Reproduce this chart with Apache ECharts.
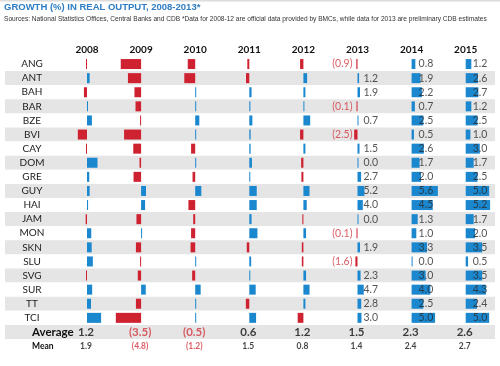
<!DOCTYPE html>
<html><head><meta charset="utf-8">
<script src="https://cdn.jsdelivr.net/npm/echarts@6/dist/echarts.min.js"></script>
<style>html,body{margin:0;padding:0;background:#fff}#c{width:500px;height:366px}</style>
</head><body><div id="c"></div>
<script>
// ---- data ----
const countries = ['ANG','ANT','BAH','BAR','BZE','BVI','CAY','DOM','GRE','GUY','HAI','JAM','MON','SKN','SLU','SVG','SUR','TT','TCI'];
const years = ['2008','2009','2010','2011','2012','2013','2014','2015'];
const g2008 = [-0.6, 2.0, -2.3, 0.5, 3.7, -6.9, -0.6, 7.9, 1.7, 2.0, 0.8, -1.0, 3.2, 3.5, 4.4, -0.6, 3.9, 3.0, 10.6];
const g2009 = [-15.3, -9.9, -5.0, -4.2, -0.3, -12.8, -5.9, -1.2, -5.7, 3.7, 3.0, -3.5, 0.5, -3.9, -0.5, -2.5, 3.5, -3.9, -19.0];
const g2010 = [-5.6, -8.2, 0.3, 0.3, 3.1, 0.4, -3.1, 0.5, -2.0, 4.6, -5.1, -1.5, -3.1, -3.5, 0.3, -2.3, 4.1, 0.2, 0.3];
const g2011 = [-1.5, -2.5, 1.7, 0.8, 2.3, 1.0, 1.0, 2.0, 0.5, 5.6, 5.6, 1.7, 6.1, -1.9, 1.4, 0.3, 4.8, -2.6, 5.1];
const g2012 = [-2.5, 2.8, 1.5, 0.2, 5.1, -2.5, 1.5, -1.7, -1.5, 4.6, 2.5, -0.8, 2.0, -1.2, -1.2, 2.0, 4.6, 1.5, -4.3];
const g2013 = [-0.9, 1.2, 1.9, -0.1, 0.7, -2.5, 1.5, 0.0, 2.7, 5.2, 4.0, 0.0, -0.1, 1.9, -1.6, 2.3, 4.7, 2.8, 3.0];
const g2014 = [0.8, 1.9, 2.2, 0.7, 2.5, 0.5, 2.6, 1.7, 2.0, 5.6, 4.5, 1.3, 1.0, 3.3, 0.0, 3.0, 4.0, 2.5, 5.0];
const g2015 = [1.2, 2.6, 2.7, 1.2, 2.5, 1.0, 3.0, 1.7, 2.5, 5.0, 5.2, 1.7, 2.0, 3.5, 0.5, 3.5, 4.3, 2.4, 5.0];
const averageRow = [1.2, -3.5, -0.5, 0.6, 1.2, 1.5, 2.3, 2.6];
const meanRow = [1.9, -4.8, -1.2, 1.5, 0.8, 1.4, 2.4, 2.7];
const labelledYears = ['2013','2014','2015'];

// ---- layout / style ----
const series = [g2008, g2009, g2010, g2011, g2012, g2013, g2014, g2015];
const RED = '#cf2230', BLUE = '#1b87cf', RED_TXT = '#d3363e';
const TOP = 57, ROWH = 14.1;
const rows = countries.concat(['Average', 'Mean']);
const H = ROWH * rows.length;
const colX = years.map((y, k) => 87 + k * 54.1);
const HALF = 27;
const ranges = years.map(y => (y === '2014' || y === '2015') ? 5.75 : 20.3);
const fmt = v => v < 0 ? '(' + Math.abs(v).toFixed(1) + ')' : v.toFixed(1);
const FONT = 'Lato';

const grids = [{left: 5, top: TOP, width: 490, height: H}];
const xAxes = [{gridIndex: 0, type: 'value', show: false, min: 0, max: 1}];
const yAxes = [{
  gridIndex: 0, type: 'category', inverse: true,
  data: rows.map(r => r === 'Average' ? {value: r, textStyle: {fontWeight: 'bold', fontSize: 11.5, color: '#111'}}
                   : r === 'Mean' ? {value: r, textStyle: {fontWeight: 'bold', fontSize: 8.5, color: '#111'}} : r),
  axisLine: {show: false}, axisTick: {show: false}, splitLine: {show: false},
  splitArea: {show: true, areaStyle: {color: ['#ffffff', '#e5e5e5']}},
  axisLabel: {inside: true, margin: 27, align: 'center', fontFamily: FONT, fontSize: 10, color: '#222'}
}];
const ser = [{type: 'scatter', xAxisIndex: 0, yAxisIndex: 0, data: [], silent: true}];

years.forEach((yr, k) => {
  const gi = k + 1;
  grids.push({left: colX[k] - HALF, top: TOP, width: HALF * 2, height: H});
  xAxes.push({
    gridIndex: gi, type: 'value', min: -ranges[k], max: ranges[k], position: 'top',
    name: yr, nameLocation: 'middle', nameGap: 2,
    nameTextStyle: {fontFamily: FONT, fontWeight: 'bold', fontSize: 10, color: '#111'},
    axisLine: {show: false}, axisTick: {show: false}, axisLabel: {show: false}, splitLine: {show: false}
  });
  yAxes.push({gridIndex: gi, type: 'category', inverse: true, data: rows, show: false});
  const vals = series[k];
  ser.push({
    type: 'bar', xAxisIndex: gi, yAxisIndex: gi, data: vals, barWidth: 10, barMinHeight: 1,
    itemStyle: {color: p => p.value < 0 ? RED : BLUE}, z: 2, silent: true
  });
  if (labelledYears.includes(yr)) {
    const is2013 = yr === '2013';
    ser.push({
      type: 'scatter', xAxisIndex: gi, yAxisIndex: gi, symbolSize: 0, z: 5, silent: true,
      data: vals.map((v, i) => ({
        value: [0, i],
        label: {
          show: true, formatter: fmt(v),
          position: (is2013 && v < 0) ? 'left' : 'right',
          distance: is2013 ? (v < 0 ? 5 : 6) : 7,
          color: v < 0 ? RED_TXT : '#2a2a2a', fontFamily: FONT, fontSize: 10.5
        }
      }))
    });
  }
  ser.push({
    type: 'scatter', xAxisIndex: gi, yAxisIndex: gi, symbolSize: 0, z: 5, silent: true,
    data: [
      {value: [0, countries.length], label: {show: true, position: 'inside', offset: [-1, 0], formatter: fmt(averageRow[k]),
        fontFamily: FONT, fontWeight: 'bold', fontSize: 11.5, color: averageRow[k] < 0 ? RED_TXT : '#111'}},
      {value: [0, countries.length + 1], label: {show: true, position: 'inside', offset: [-1, 0], formatter: fmt(meanRow[k]),
        fontFamily: FONT, fontWeight: 'bold', fontSize: 8.5, color: meanRow[k] < 0 ? RED_TXT : '#111'}}
    ]
  });
});

const chart = echarts.init(document.getElementById('c'), null, {renderer: 'canvas'});
chart.setOption({
  animation: false,
  backgroundColor: '#fff',
  title: {
    text: 'GROWTH (%) IN REAL OUTPUT, 2008-2013*',
    subtext: 'Sources: National Statistics Offices, Central Banks and CDB *Data for 2008-12 are official data provided by BMCs, while data for 2013 are preliminary CDB estimates',
    left: 4, top: 2, padding: 0, itemGap: 4,
    textStyle: {fontFamily: 'Liberation Sans', fontSize: 9.5, fontWeight: 'bold', color: '#2e7dc5'},
    subtextStyle: {fontFamily: 'Liberation Sans', fontSize: 6.6, color: '#333'}
  },
  graphic: [{type: 'rect', shape: {x: 0, y: 0, width: 500, height: 1.5}, style: {fill: '#dcdcdc'}, silent: true}],
  grid: grids, xAxis: xAxes, yAxis: yAxes, series: ser
});
</script></body></html>
